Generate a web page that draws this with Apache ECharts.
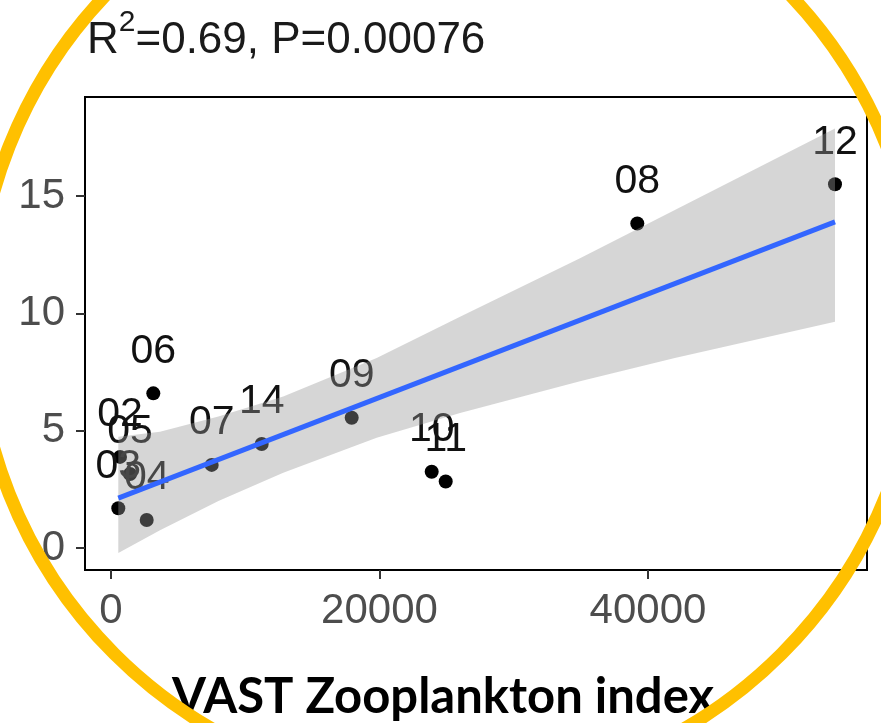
<!DOCTYPE html>
<html>
<head>
<meta charset="utf-8">
<script src="https://cdn.jsdelivr.net/npm/echarts@6/dist/echarts.min.js"></script>
<style>
  html, body { margin: 0; padding: 0; background: #fff; }
  #zooChart { width: 881px; height: 723px; }
</style>
</head>
<body>
<div id="zooChart"></div>
<script>
// 站点编号
var siteLabels = ['02', '03', '04', '05', '06', '07', '08', '09', '10', '11', '12', '14']
// 横轴 VAST 浮游动物指数
var zooIndex = [670, 544, 2659, 1415, 3151, 7500, 39203, 17929, 23888, 24931, 53929, 11225]
// 纵轴数值
var yValues = [3.88, 1.69, 1.19, 3.15, 6.59, 3.54, 13.83, 5.55, 3.25, 2.83, 15.5, 4.43]

// 回归线两端
var fitX = [544, 53929]
var fitY = [2.12, 13.9]

// 置信区间（灰色带）
var bandX = [544, 3650, 8000, 12830, 19790, 26000, 34935, 42000, 53929]
var bandUpper = [4.74, 4.95, 5.6, 6.45, 8.1, 9.85, 12.35, 14.4, 17.88]
var bandLower = [-0.22, 0.75, 2.0, 3.2, 4.7, 5.75, 7.1, 8.1, 9.64]

// 刻度
var xTicks = [0, 20000, 40000]
var yTicks = [0, 5, 10, 15]

var chartDom = document.getElementById('zooChart')
var zooChart = echarts.init(chartDom)

var pointData = []
for (var i = 0; i < zooIndex.length; i++) {
    pointData.push({ name: siteLabels[i], value: [zooIndex[i], yValues[i]] })
}

var lineData = []
for (var j = 0; j < fitX.length; j++) {
    lineData.push([fitX[j], fitY[j]])
}

// 灰色带用多边形画
function renderBand (params, api) {
    var pts = []
    for (var k = 0; k < bandX.length; k++) {
        pts.push(api.coord([bandX[k], bandUpper[k]]))
    }
    for (var m = bandX.length - 1; m >= 0; m--) {
        pts.push(api.coord([bandX[m], bandLower[m]]))
    }
    return {
        type: 'polygon',
        shape: { points: pts },
        style: { fill: 'rgba(153,153,153,0.4)' }
    }
}

var tickFont = {
    color: '#4d4d4d',
    fontSize: 42,
    fontFamily: 'Liberation Sans'
}

var option = {
    backgroundColor: '#fff',
    animation: false,
    title: {
        left: 82,
        top: 3,
        text: '{a|R}{s|2}{a|=0.69, P=0.00076}',
        textStyle: {
            rich: {
                a: { fontSize: 44, fontWeight: 'normal', color: '#1a1a1a', fontFamily: 'Liberation Sans', lineHeight: 66 },
                s: { fontSize: 30, fontWeight: 'normal', color: '#1a1a1a', fontFamily: 'Liberation Sans', verticalAlign: 'top', lineHeight: 30 }
            }
        }
    },
    grid: {
        left: 85,
        right: 14,
        top: 97,
        bottom: 153,
        show: true,
        borderColor: '#000',
        borderWidth: 2
    },
    xAxis: {
        type: 'value',
        min: -1937,
        max: 56313,
        splitLine: { show: false },
        axisLine: { show: true, onZero: false, lineStyle: { color: '#000', width: 2 } },
        axisTick: { show: true, length: 9, lineStyle: { color: '#333', width: 2 }, customValues: xTicks },
        axisLabel: Object.assign({
            margin: 20,
            customValues: xTicks,
            formatter: function (v) { return String(v) }
        }, tickFont)
    },
    yAxis: {
        type: 'value',
        min: -0.94,
        max: 19.22,
        splitLine: { show: false },
        axisLine: { show: true, onZero: false, lineStyle: { color: '#000', width: 2 } },
        axisTick: { show: true, length: 9, lineStyle: { color: '#333', width: 2 }, customValues: yTicks },
        axisLabel: Object.assign({ margin: 20, customValues: yTicks }, tickFont)
    },
    series: [
        {
            type: 'scatter',
            z: 2,
            symbolSize: 14,
            itemStyle: { color: '#000', opacity: 1 },
            label: {
                show: true,
                position: 'inside',
                offset: [0, -42],
                formatter: '{b}',
                color: '#111',
                fontSize: 41,
                fontFamily: 'Liberation Sans'
            },
            data: pointData
        },
        {
            type: 'custom',
            z: 3,
            renderItem: renderBand,
            data: [0],
            silent: true
        },
        {
            type: 'line',
            z: 4,
            symbol: 'none',
            lineStyle: { color: '#3366FF', width: 5 },
            data: lineData
        }
    ],
    graphic: [
        {
            // 底部横轴标题
            type: 'text',
            z: 50,
            x: 443,
            y: 673,
            style: {
                text: 'VAST Zooplankton index',
                fill: '#000',
                font: 'bold 49px Lato',
                textAlign: 'center',
                textVerticalAlign: 'top'
            }
        },
        {
            type: 'circle',
            z: 100,
            silent: true,
            shape: { cx: 448, cy: 320, r: 472 },
            style: { fill: 'none', stroke: '#FFC000', lineWidth: 13 }
        }
    ]
}

zooChart.setOption(option)
</script>
</body>
</html>
